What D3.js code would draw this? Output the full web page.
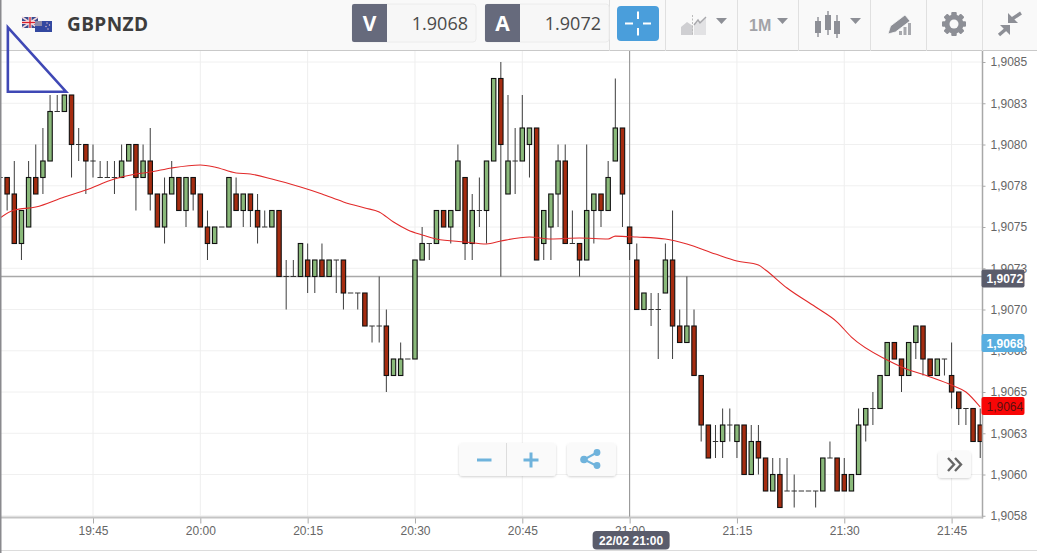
<!DOCTYPE html>
<html>
<head>
<meta charset="utf-8">
<script src="https://cdnjs.cloudflare.com/ajax/libs/d3/7.8.5/d3.min.js"></script>
<style>
html, body { margin: 0; padding: 0; background: #fff; overflow: hidden; }
svg { display: block; }
</style>
</head>
<body>
<div id="chart"></div>
<script>
// one candle per minute, starting at startTime
const startTime = "19:32";
const opens = [
  1.9078,1.9078,1.9077,1.9074,1.9075,1.9078,1.9078,1.9079,1.9082,1.9082,
  1.9083,1.9080,1.9080,1.9079,1.9078,1.9078,1.9078,1.9078,1.9079,1.9080,
  1.9078,1.9079,1.9077,1.9075,1.9077,1.9078,1.9076,1.9078,1.9077,1.9075,
  1.9074,1.9075,1.9075,1.9077,1.9076,1.9077,1.9076,1.9075,1.9075,1.9076,
  1.9072,1.9072,1.9072,1.9073,1.9072,1.9073,1.9072,1.9073,1.9073,1.9071,
  1.9071,1.9071,1.9069,1.9069,1.9069,1.9066,1.9066,1.9067,1.9067,1.9073,
  1.9074,1.9074,1.9076,1.9075,1.9076,1.9078,1.9074,1.9076,1.9076,1.9079,
  1.9084,1.9077,1.9079,1.9079,1.9080,1.9081,1.9074,1.9075,1.9077,1.9079,
  1.9074,1.9074,1.9073,1.9076,1.9077,1.9076,1.9079,1.9081,1.9075,1.9073,
  1.9070,1.9070,1.9070,1.9071,1.9073,1.9069,1.9068,1.9069,1.9066,1.9063,
  1.9062,1.9062,1.9063,1.9062,1.9063,1.9060,1.9062,1.9061,1.9059,1.9060,
  1.9059,1.9059,1.9059,1.9059,1.9059,1.9059,1.9061,1.9061,1.9060,1.9059,
  1.9060,1.9063,1.9064,1.9064,1.9066,1.9068,1.9067,1.9066,1.9068,1.9069,
  1.9067,1.9066,1.9067,1.9066,1.9065,1.9064,1.9064,1.9063
];
const closes = [
  1.9078,1.9077,1.9074,1.9076,1.9078,1.9077,1.9079,1.9082,1.9082,1.9083,
  1.9080,1.9080,1.9079,1.9079,1.9078,1.9078,1.9078,1.9079,1.9080,1.9078,
  1.9079,1.9077,1.9075,1.9077,1.9078,1.9076,1.9078,1.9077,1.9075,1.9074,
  1.9075,1.9075,1.9078,1.9076,1.9077,1.9076,1.9075,1.9075,1.9076,1.9072,
  1.9072,1.9072,1.9074,1.9072,1.9073,1.9072,1.9073,1.9073,1.9071,1.9071,
  1.9071,1.9069,1.9069,1.9069,1.9066,1.9067,1.9067,1.9067,1.9073,1.9074,
  1.9074,1.9076,1.9075,1.9076,1.9079,1.9074,1.9076,1.9076,1.9079,1.9084,
  1.9080,1.9079,1.9079,1.9081,1.9081,1.9073,1.9076,1.9077,1.9079,1.9074,
  1.9074,1.9073,1.9076,1.9077,1.9076,1.9078,1.9081,1.9077,1.9074,1.9070,
  1.9071,1.9070,1.9070,1.9073,1.9069,1.9068,1.9069,1.9066,1.9063,1.9061,
  1.9062,1.9063,1.9063,1.9063,1.9060,1.9062,1.9061,1.9059,1.9060,1.9058,
  1.9059,1.9059,1.9059,1.9059,1.9059,1.9061,1.9061,1.9059,1.9059,1.9060,
  1.9063,1.9064,1.9064,1.9066,1.9068,1.9067,1.9066,1.9068,1.9069,1.9067,
  1.9066,1.9067,1.9067,1.9065,1.9064,1.9064,1.9062,1.9062
];
const highs = [
  1.9078,1.9078,1.9079,1.9076,1.9079,1.9080,1.9081,1.9083,1.9083,1.9083,
  1.9083,1.9081,1.9080,1.9080,1.9079,1.9079,1.9079,1.9080,1.9080,1.9080,
  1.9080,1.9081,1.9077,1.9078,1.9079,1.9078,1.9078,1.9078,1.9077,1.9076,
  1.9075,1.9075,1.9078,1.9078,1.9077,1.9077,1.9077,1.9076,1.9076,1.9076,
  1.9073,1.9073,1.9074,1.9074,1.9073,1.9074,1.9073,1.9073,1.9073,1.9071,
  1.9071,1.9071,1.9069,1.9072,1.9070,1.9067,1.9068,1.9067,1.9073,1.9075,
  1.9074,1.9076,1.9076,1.9076,1.9080,1.9078,1.9077,1.9078,1.9079,1.9084,
  1.9085,1.9083,1.9081,1.9083,1.9081,1.9081,1.9076,1.9077,1.9080,1.9080,
  1.9076,1.9074,1.9080,1.9077,1.9077,1.9079,1.9084,1.9081,1.9075,1.9074,
  1.9071,1.9071,1.9071,1.9074,1.9076,1.9070,1.9072,1.9070,1.9066,1.9063,
  1.9063,1.9064,1.9064,1.9063,1.9063,1.9063,1.9063,1.9061,1.9061,1.9061,
  1.9061,1.9060,1.9059,1.9059,1.9059,1.9061,1.9062,1.9061,1.9061,1.9060,
  1.9064,1.9064,1.9065,1.9066,1.9068,1.9068,1.9067,1.9068,1.9069,1.9069,
  1.9067,1.9067,1.9067,1.9068,1.9065,1.9064,1.9064,1.9064
];
const lows = [
  1.9078,1.9076,1.9074,1.9073,1.9075,1.9077,1.9077,1.9079,1.9082,1.9082,
  1.9078,1.9079,1.9077,1.9078,1.9078,1.9078,1.9077,1.9078,1.9079,1.9076,
  1.9078,1.9076,1.9075,1.9074,1.9077,1.9076,1.9075,1.9076,1.9075,1.9073,
  1.9074,1.9075,1.9075,1.9076,1.9075,1.9075,1.9074,1.9075,1.9075,1.9072,
  1.9070,1.9072,1.9072,1.9071,1.9071,1.9072,1.9072,1.9071,1.9070,1.9071,
  1.9070,1.9069,1.9068,1.9068,1.9065,1.9066,1.9066,1.9067,1.9067,1.9073,
  1.9073,1.9074,1.9075,1.9074,1.9076,1.9073,1.9073,1.9075,1.9074,1.9079,
  1.9072,1.9077,1.9077,1.9079,1.9078,1.9073,1.9073,1.9073,1.9075,1.9074,
  1.9074,1.9072,1.9073,1.9074,1.9075,1.9076,1.9079,1.9075,1.9073,1.9070,
  1.9070,1.9069,1.9067,1.9071,1.9067,1.9068,1.9068,1.9066,1.9062,1.9061,
  1.9061,1.9061,1.9062,1.9061,1.9060,1.9060,1.9060,1.9059,1.9059,1.9058,
  1.9059,1.9058,1.9059,1.9059,1.9058,1.9059,1.9061,1.9059,1.9059,1.9059,
  1.9060,1.9062,1.9063,1.9064,1.9066,1.9067,1.9065,1.9066,1.9067,1.9066,
  1.9066,1.9066,1.9066,1.9064,1.9063,1.9063,1.9062,1.9061
];

// moving average
const maTimes = ["19:32","19:34","19:37","19:41","19:44","19:48","19:51","19:53","19:56","20:00",
  "20:02","20:05","20:07","20:10","20:14","20:17","20:20","20:23","20:25","20:27",
  "20:29","20:31","20:33","20:37","20:40","20:42","20:46","20:49","20:53","20:57",
  "20:58","21:01","21:05","21:08","21:12","21:15","21:18","21:19","21:22","21:26",
  "21:29","21:31","21:36","21:38","21:42","21:45","21:47","21:49"];
const maValues = [1.907555,1.907603,1.907621,1.907682,1.907724,1.907791,1.907821,1.907833,1.907858,1.907876,
  1.907864,1.907827,1.907821,1.907791,1.907742,1.9077,1.907652,1.907615,1.907591,1.90753,
  1.907482,1.907452,1.907427,1.907409,1.907397,1.907415,1.907439,1.907427,1.907433,1.907427,
  1.907445,1.907439,1.907427,1.907397,1.907336,1.907294,1.90727,1.907239,1.90713,1.907015,
  1.906924,1.906833,1.906694,1.906652,1.906591,1.906542,1.9065,1.906409];

const yTicks = [1.9085,1.90825,1.908,1.90775,1.9075,1.90725,1.907,1.90675,1.9065,1.90625,1.906,1.90575];
const yTickLabels = ["1,9085","1,9083","1,9080","1,9078","1,9075","1,9073","1,9070","1,9068","1,9065","1,9063","1,9060","1,9058"];
const xTickLabels = ["19:45","20:00","20:15","20:30","20:45","21:00","21:15","21:30","21:45"];

// blue triangle somebody drew on the chart
const triangleTimes = ["19:33:06","19:33:06","19:41:14"];
const trianglePrices = [1.90871,1.90832,1.90832];

const bidPrice = 1.9068, askPrice = 1.9072, lastPrice = 1.9064;
const crossTime = "21:00", crossLabel = "22/02 21:00";

const width = 1037, height = 553;
const plotTop = 51, plotBottom = 517.5, plotRight = 982.5;
const sansAxis = "'Liberation Sans', Arial, sans-serif";
const sansHead = "'Open Sans', sans-serif";

const parseT = t => new Date("2021-02-22T" + (t.length === 5 ? t + ":00" : t) + "Z");
const fmtT = d3.utcFormat("%H:%M");

const x = d3.scaleUtc().domain([parseT("19:45"), parseT("21:45")]).range([93, 951.6]);
const y = d3.scaleLinear().domain([1.90575, 1.9085]).range([515.75, 62]);

const candles = opens.map((o, i) => ({
  t: new Date(parseT(startTime).getTime() + i * 60000),
  o, c: closes[i], h: highs[i], l: lows[i]
}));

const svg = d3.select("#chart").append("svg").attr("width", width).attr("height", height);

svg.append("defs").append("clipPath").attr("id", "plot")
  .append("rect").attr("x", 0).attr("y", plotTop).attr("width", plotRight).attr("height", plotBottom - plotTop);
const shadow = svg.select("defs").append("filter").attr("id", "soft")
  .attr("x", "-10%").attr("y", "-10%").attr("width", "120%").attr("height", "130%");
shadow.append("feDropShadow").attr("dx", 0).attr("dy", 1).attr("stdDeviation", 1)
  .attr("flood-color", "#000").attr("flood-opacity", 0.18);

// grid
const grid = svg.append("g");
grid.selectAll(".gy").data(yTicks).join("line")
  .attr("class", "gy")
  .attr("x1", 0).attr("x2", plotRight).attr("y1", d => y(d)).attr("y2", d => y(d))
  .attr("stroke", "#f0f0f0").attr("stroke-width", 1);
const xTicks = xTickLabels.map(parseT);
grid.selectAll(".gx").data(xTicks).join("line")
  .attr("class", "gx")
  .attr("x1", d => x(d)).attr("x2", d => x(d)).attr("y1", plotTop).attr("y2", plotBottom)
  .attr("stroke", "#eeeeee").attr("stroke-width", 1);

const plot = svg.append("g").attr("clip-path", "url(#plot)");

// crosshair goes under the candles
plot.append("line").attr("x1", 0).attr("x2", plotRight).attr("y1", y(askPrice)).attr("y2", y(askPrice))
  .attr("stroke", "#a9a9a9").attr("stroke-width", 1.6);
plot.append("line").attr("x1", x(parseT(crossTime))).attr("x2", x(parseT(crossTime)))
  .attr("y1", plotTop).attr("y2", plotBottom).attr("stroke", "#8f8f8f").attr("stroke-width", 1);

// candles
const bodyW = 4.4;
const candle = plot.selectAll(".candle").data(candles).join("g").attr("class", "candle");
candle.append("line")
  .attr("x1", d => x(d.t)).attr("x2", d => x(d.t))
  .attr("y1", d => y(d.h)).attr("y2", d => y(d.l))
  .attr("stroke", "#3d3d3d").attr("stroke-width", 1);
// a zero height rect would not paint, so flat candles get a dash
candle.filter(d => d.c === d.o).append("line")
  .attr("x1", d => x(d.t) - bodyW / 2 - 0.5).attr("x2", d => x(d.t) + bodyW / 2 + 0.5)
  .attr("y1", d => y(d.o)).attr("y2", d => y(d.o))
  .attr("stroke", "#333").attr("stroke-width", 1);
candle.filter(d => d.c !== d.o).append("rect")
  .attr("x", d => x(d.t) - bodyW / 2)
  .attr("y", d => y(Math.max(d.o, d.c)))
  .attr("width", bodyW)
  .attr("height", d => Math.abs(y(d.o) - y(d.c)))
  .attr("fill", d => d.c > d.o ? "#8ab97a" : "#a52c10")
  .attr("stroke", "#111")
  .attr("stroke-width", 1.1);

// moving average
const maLine = d3.line().x(d => x(d.t)).y(d => y(d.v)).curve(d3.curveMonotoneX);
plot.append("path")
  .attr("d", maLine(maTimes.map((t, i) => ({t: parseT(t), v: maValues[i]}))))
  .attr("fill", "none").attr("stroke", "#e22a2a").attr("stroke-width", 1.1);

// axes
const yAxis = d3.axisRight(y).tickValues(yTicks).tickSize(3).tickPadding(5)
  .tickFormat((d, i) => yTickLabels[i]);
const yG = svg.append("g").attr("transform", `translate(${plotRight},0)`).call(yAxis);
const xAxis = d3.axisBottom(x).tickValues(xTicks).tickSize(6).tickPadding(3)
  .tickFormat(fmtT);
const xG = svg.append("g").attr("transform", `translate(0,${plotBottom})`).call(xAxis);
[yG, xG].forEach(g => {
  g.selectAll("text").attr("font-family", sansAxis).attr("font-size", 12).attr("fill", "#666");
  g.selectAll(".tick line").attr("stroke", "#aaa");
  g.select(".domain").remove();
});
svg.append("line").attr("x1", plotRight).attr("x2", plotRight).attr("y1", plotTop).attr("y2", plotBottom + 1)
  .attr("stroke", "#a8a8a8").attr("stroke-width", 1.5);
svg.append("line").attr("x1", 0).attr("x2", plotRight).attr("y1", plotBottom).attr("y2", plotBottom)
  .attr("stroke", "#c4c4c4").attr("stroke-width", 2);
svg.append("line").attr("x1", 0).attr("x2", width).attr("y1", 550.5).attr("y2", 550.5)
  .attr("stroke", "#dcdcdc").attr("stroke-width", 1);

// price tags on the axis, nudged off their level like the platform does
function priceTag(price, fill, color, nudge) {
  const g = svg.append("g").attr("transform", `translate(${plotRight},${y(price) + nudge})`);
  g.append("rect").attr("x", -1).attr("y", -9).attr("width", 43).attr("height", 18).attr("rx", 2).attr("fill", fill);
  g.append("text").attr("x", 4).attr("y", 4.5).attr("font-family", sansAxis).attr("font-size", 12)
    .attr("font-weight", color === "#fff" ? "bold" : "normal").attr("fill", color)
    .text(d3.format(".4f")(price).replace(".", ","));
}
priceTag(askPrice, "#5a5c6b", "#fff", 2);
priceTag(bidPrice, "#58aee0", "#fff", 0.5);
priceTag(lastPrice, "#f80606", "#5a1010", -2.5);

const cx = x(parseT(crossTime));
svg.append("rect").attr("x", cx - 37).attr("y", 531).attr("width", 77).attr("height", 18.5).attr("rx", 4).attr("fill", "#5a5c6b");
svg.append("text").attr("x", cx + 1.5).attr("y", 544.5).attr("text-anchor", "middle")
  .attr("font-family", sansAxis).attr("font-size", 12).attr("font-weight", "bold").attr("fill", "#fff").text(crossLabel);

// zoom + share buttons
const btn = svg.append("g").attr("fill", "#fafafa").attr("filter", "url(#soft)");
btn.append("rect").attr("x", 459).attr("y", 443).attr("width", 97).attr("height", 33).attr("rx", 4);
btn.append("rect").attr("x", 567).attr("y", 443).attr("width", 49).attr("height", 33).attr("rx", 4);
btn.append("rect").attr("x", 938).attr("y", 451).attr("width", 33).attr("height", 27).attr("rx", 4);
svg.append("line").attr("x1", 506.5).attr("x2", 506.5).attr("y1", 443).attr("y2", 476).attr("stroke", "#ddd");
const blue = "#6fb3dc";
svg.append("path").attr("d", "M477 458.5h14.5v3H477z M523.5 458.5h6v-6h3v6h6v3h-6v6h-3v-6h-6z").attr("fill", blue);
svg.append("path").attr("d", "M597 452.5L584 459.5L597 466").attr("fill", "none").attr("stroke", blue).attr("stroke-width", 2);
[[597, 452.5, 3.4], [584, 459.5, 3.8], [597, 465.5, 3.4]].forEach(c =>
  svg.append("circle").attr("cx", c[0]).attr("cy", c[1]).attr("r", c[2]).attr("fill", blue));
svg.append("path").attr("d", "M948 458l6 6.5l-6 6.5 M955 458l6 6.5l-6 6.5").attr("fill", "none")
  .attr("stroke", "#666").attr("stroke-width", 2.4);

// header bar
const head = svg.append("g");
head.append("rect").attr("width", width).attr("height", 50.5).attr("fill", "#f9f9f9");
head.append("line").attr("x1", 0).attr("x2", width).attr("y1", 50.5).attr("y2", 50.5).attr("stroke", "#c9c9c9").attr("stroke-width", 1.2);
[609.5, 665.5, 737.5, 798.5, 870.5, 926.5, 982.5].forEach(s =>
  head.append("line").attr("x1", s).attr("x2", s).attr("y1", 0).attr("y2", 51).attr("stroke", "#e0e0e0"));

// flags
head.append("rect").attr("x", 22).attr("y", 17).attr("width", 16).attr("height", 11).attr("fill", "#3a4a8f");
head.append("path").attr("d", "M22 17L38 28M38 17L22 28").attr("stroke", "#f0d8dc").attr("stroke-width", 1.6);
head.append("path").attr("d", "M30 17V28M22 22.5H38").attr("stroke", "#fff").attr("stroke-width", 3);
head.append("path").attr("d", "M30 17V28M22 22.5H38").attr("stroke", "#d8202c").attr("stroke-width", 1.4);
head.append("rect").attr("x", 35).attr("y", 21).attr("width", 17).attr("height", 11).attr("fill", "#3348a0");
head.append("rect").attr("x", 35).attr("y", 21).attr("width", 7).attr("height", 5).attr("fill", "#8e8aa8");
[[47, 23], [49.5, 25], [46, 26.5], [48, 29]].forEach(s =>
  head.append("circle").attr("cx", s[0]).attr("cy", s[1]).attr("r", 0.7).attr("fill", "#f0c8d0"));

head.append("text").attr("x", 67).attr("y", 31).attr("font-family", sansHead).attr("font-size", 19)
  .attr("font-weight", 700).attr("fill", "#3d3d3d").attr("letter-spacing", 0.4).text("GBPNZD");

// V / A boxes
function quoteBox(x0, letter, price) {
  head.append("rect").attr("x", x0).attr("y", 4).attr("width", 124).attr("height", 38).attr("rx", 3)
    .attr("fill", "#f7f7f7").attr("stroke", "#ececec");
  head.append("path").attr("d", `M${x0 + 35} 4H${x0 + 2}a2 2 0 0 0 -2 2V40a2 2 0 0 0 2 2H${x0 + 35}z`).attr("fill", "#666a7c");
  head.append("text").attr("x", x0 + 17.5).attr("y", 31).attr("text-anchor", "middle").attr("font-family", sansHead)
    .attr("font-size", 21).attr("font-weight", 700).attr("fill", "#fff").text(letter);
  head.append("text").attr("x", x0 + 116).attr("y", 29.5).attr("text-anchor", "end").attr("font-family", sansHead)
    .attr("font-size", 18).attr("fill", "#4a4a4a").text(d3.format(".4f")(price));
}
quoteBox(352, "V", bidPrice);
quoteBox(485, "A", askPrice);

// crosshair button
head.append("rect").attr("x", 617).attr("y", 6).attr("width", 42).attr("height", 35).attr("rx", 4).attr("fill", "#4a9edb");
head.append("path").attr("d", "M638 11.5V19M638 28V35.5M625 23.5H633M643 23.5H651").attr("stroke", "#fff").attr("stroke-width", 2);

// toolbar icons
const grey = "#8d8f96";
const caret = px => head.append("path").attr("d", `M${px} 18h11l-5.5 6z`).attr("fill", grey);
head.append("path").attr("d", "M681 35V27L687 22L693 26V35z").attr("fill", "#cfcfd2");
head.append("path").attr("d", "M694 35V24L700 21L706 17V35z").attr("fill", "#e2e2e4");
head.append("path").attr("d", "M694 25L698 20L700 23L706 17").attr("fill", "none").attr("stroke", "#a8a8ac").attr("stroke-width", 1.4);
head.append("line").attr("x1", 692.5).attr("x2", 692.5).attr("y1", 15).attr("y2", 36).attr("stroke", "#bbb").attr("stroke-dasharray", "2,1.5");
caret(716);
head.append("text").attr("x", 749).attr("y", 31).attr("font-family", sansAxis).attr("font-size", 16)
  .attr("font-weight", 700).attr("fill", "#a2a3a8").text("1M");
caret(777);
[[818, 17, 37, 21, 33], [828, 11, 35, 15, 30], [837, 15, 38, 21, 34]].forEach(c => {
  head.append("line").attr("x1", c[0]).attr("x2", c[0]).attr("y1", c[1]).attr("y2", c[2]).attr("stroke", grey).attr("stroke-width", 1.4);
  head.append("rect").attr("x", c[0] - 3).attr("y", c[3]).attr("width", 6).attr("height", c[4] - c[3]).attr("fill", grey);
});
caret(850);
head.append("path").attr("d", "M899 35h3v-4h-3z M903.5 35h3v-8h-3z M908 35h3v-12h-3z").attr("fill", "#a8a9ae");
head.append("path").attr("d", "M888 34l2.5-8l14.5-11l5 6l-14.5 11z").attr("fill", grey).attr("stroke", "#f9f9f9").attr("stroke-width", 0.8);
// gear
d3.range(8).map(i => i * 45).forEach(a => head.append("rect").attr("x", 951.5).attr("y", 12).attr("width", 5).attr("height", 24)
  .attr("rx", 1).attr("fill", grey).attr("transform", `rotate(${a} 954 24)`));
head.append("circle").attr("cx", 954).attr("cy", 24).attr("r", 9.5).attr("fill", grey);
head.append("circle").attr("cx", 954).attr("cy", 24).attr("r", 4.5).attr("fill", "#f9f9f9");
// collapse arrows
head.append("path").attr("d", "M1008 23V13L1018 23z M998 35l9-9").attr("fill", grey);
head.append("path").attr("d", "M1010 25V35L1000 25z").attr("fill", grey);
head.append("path").attr("d", "M1012 19L1021 13 M1006 29L999 35").attr("fill", "none").attr("stroke", grey).attr("stroke-width", 3.4);

// left edge of the window
svg.append("rect").attr("x", 0).attr("y", 0).attr("width", 1.5).attr("height", height).attr("fill", "#8a8a8e");

// drawn triangle
const triangle = d3.line().x(d => x(d.t)).y(d => y(d.v)).curve(d3.curveLinearClosed);
svg.append("path")
  .attr("d", triangle(triangleTimes.map((t, i) => ({t: parseT(t), v: trianglePrices[i]}))))
  .attr("fill", "none").attr("stroke", "#3f48b5").attr("stroke-width", 2.6);
</script>
</body>
</html>
